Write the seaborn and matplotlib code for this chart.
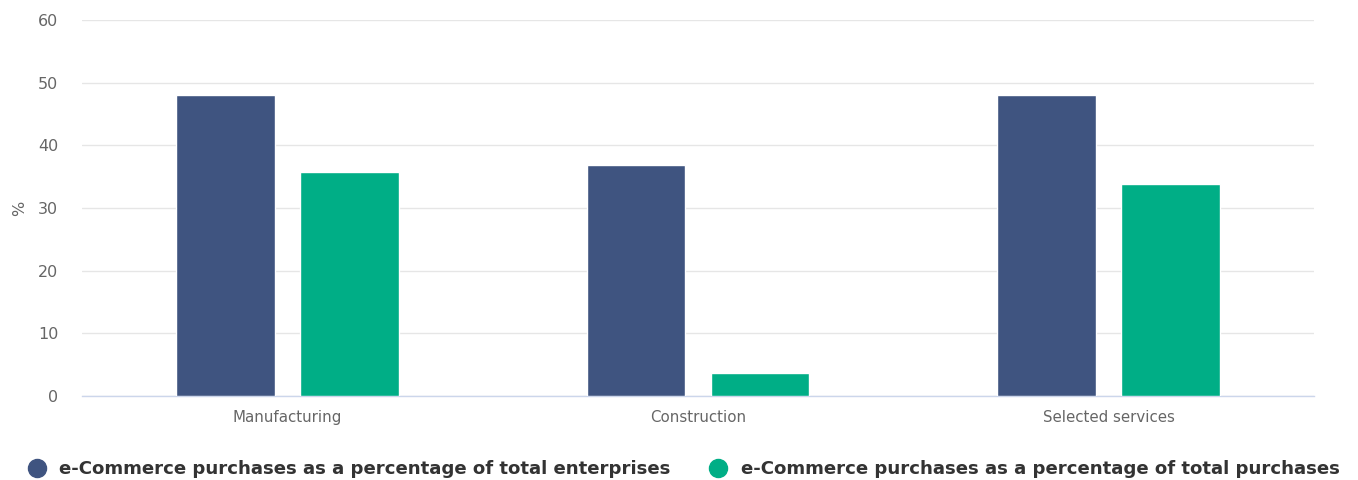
import matplotlib
matplotlib.use("Agg")
import matplotlib.pyplot as plt
import seaborn as sns
import pandas as pd
from matplotlib.lines import Line2D

categories = ["Manufacturing", "Construction", "Selected services"]
series_names = [
    "e-Commerce purchases as a percentage of total enterprises",
    "e-Commerce purchases as a percentage of total purchases",
]
pct_enterprises = [48.0, 36.8, 48.0]
pct_purchases = [35.8, 3.7, 33.8]
y_ticks = [0, 10, 20, 30, 40, 50, 60]
colors = ["#3f5480", "#00ae86"]

df = pd.DataFrame({
    "category": categories * 2,
    "series": [series_names[0]] * 3 + [series_names[1]] * 3,
    "value": pct_enterprises + pct_purchases,
})

sns.set_theme(style="white")
plt.rcParams["font.family"] = ["DejaVu Sans"]

fig = plt.figure(figsize=(13.58, 4.8), dpi=100)
ax = fig.add_axes([0.0604, 0.175, 0.9072, 0.783])

sns.barplot(data=df, x="category", y="value", hue="series", order=categories,
            hue_order=series_names, palette=colors, width=0.604, gap=0.205,
            saturation=1, ax=ax, legend=False, zorder=3)

ax.set_ylim(0, 60)
ax.set_xlim(-0.5, 2.5)
ax.set_yticks(y_ticks)
ax.yaxis.grid(True, color="#e6e6e6", linewidth=1, zorder=0)
ax.set_axisbelow(True)
for s in ["top", "right", "left"]:
    ax.spines[s].set_visible(False)
ax.spines["bottom"].set_color("#ccd6eb")
ax.spines["bottom"].set_linewidth(1)
ax.tick_params(axis="both", length=0, colors="#666666")
ax.tick_params(axis="y", pad=17, labelsize=11.5)
ax.tick_params(axis="x", pad=10, labelsize=10.8)
ax.set_xlabel("")
ax.set_ylabel("%", color="#666666", fontsize=11.5, labelpad=8)

handles = [Line2D([0], [0], marker="o", linestyle="", markersize=13,
                  markerfacecolor=c, markeredgecolor=c) for c in colors]
leg = fig.legend(handles, series_names, loc="center", bbox_to_anchor=(0.5, 0.022),
                 ncol=2, frameon=False, handletextpad=0.25, columnspacing=1.6,
                 prop={"weight": "bold", "size": 13.1})
for t in leg.get_texts():
    t.set_color("#333333")

fig.savefig("out.png", dpi=100)
